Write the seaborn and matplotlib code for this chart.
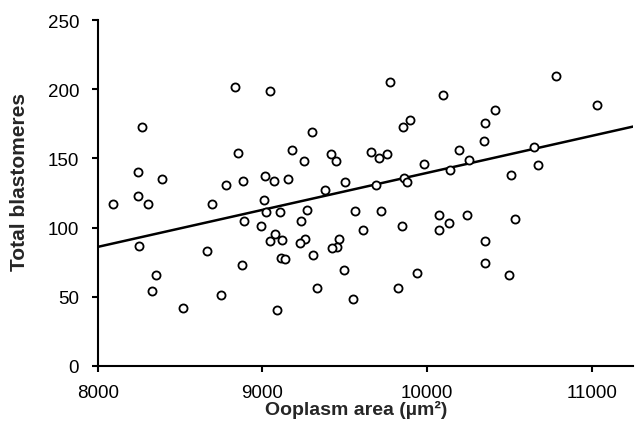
import matplotlib
matplotlib.use("Agg")
import matplotlib.pyplot as plt
import seaborn as sns
import pandas as pd

ooplasm_area = [
    8833, 9046, 8267, 8853, 8246, 8388, 8779, 8884, 9015, 8243,
    8307, 8091, 8695, 9012, 9774, 10093, 9299, 9854, 9897, 9181,
    9254, 9416, 9446, 9658, 9707, 9754, 9980, 9070, 9157, 9379,
    9501, 9687, 9859, 9879, 10138, 10781, 11028, 10409, 10350, 10344,
    10194, 10251, 10647, 10670, 10506, 9024, 8888, 8989, 9044, 8251,
    8661, 8874, 8352, 8328, 8746, 8519, 9106, 9076, 9117, 9268,
    9234, 9258, 9228, 9561, 9719, 9608, 9845, 10073, 10130, 10073,
    9466, 9450, 9420, 9305, 9110, 9137, 9496, 9936, 9333, 9824,
    9547, 9090, 10239, 10534, 10350, 10350, 10498,
]
total_blastomeres = [
    202, 199, 173, 154, 140, 135, 131, 134, 137, 123,
    117, 117, 117, 120, 205, 196, 169, 173, 178, 156,
    148, 153, 148, 155, 150, 153, 146, 134, 135, 127,
    133, 131, 136, 133, 142, 210, 189, 185, 176, 163,
    156, 149, 158, 145, 138, 111, 105, 101, 90, 87,
    83, 73, 66, 54, 51, 42, 111, 95, 91, 113,
    105, 92, 89, 112, 112, 98, 101, 109, 103, 98,
    92, 86, 85, 80, 78, 77, 69, 67, 56, 56,
    48, 40, 109, 106, 90, 74, 66,
]
# trend line as drawn in the figure (value at 8000 µm² and slope)
trend_at_8000 = 86.0
trend_slope = 0.0268

x_ticks = [8000, 9000, 10000, 11000]
y_ticks = [0, 50, 100, 150, 200, 250]
x_limits = [8000, 11250]
y_limits = [0, 250]

df = pd.DataFrame({"area": ooplasm_area, "blast": total_blastomeres})
trend = pd.DataFrame({"area": x_limits})
trend["blast"] = trend_at_8000 + trend_slope * (trend["area"] - 8000)

sns.set_style("ticks")
plt.rcParams["font.family"] = ["Liberation Sans", "DejaVu Sans"]

fig = plt.figure(figsize=(6.35, 4.35), dpi=100)
ax = fig.add_axes([0.154, 0.157, 0.843, 0.794])

sns.lineplot(data=trend, x="area", y="blast", ax=ax, color="black",
             linewidth=1.8, zorder=2)
sns.scatterplot(data=df, x="area", y="blast", ax=ax, s=34,
                facecolor="white", edgecolor="black", linewidth=1.3,
                zorder=3)

ax.set_xlim(*x_limits)
ax.set_ylim(*y_limits)
ax.set_xticks(x_ticks)
ax.set_yticks(y_ticks)
for s in ["top", "right"]:
    ax.spines[s].set_visible(False)
for s in ["left", "bottom"]:
    ax.spines[s].set_linewidth(1.5)
    ax.spines[s].set_color("black")
ax.tick_params(axis="both", direction="out", length=4.5, width=1.5,
               colors="black", labelsize=13.5)
ax.tick_params(axis="y", pad=9)
ax.tick_params(axis="x", pad=9)

ax.set_xlabel("Ooplasm area (µm²)", fontsize=14, fontweight="bold")
ax.set_ylabel("Total blastomeres", fontsize=15, fontweight="bold")
ax.xaxis.set_label_coords(0.482, -0.10)
ax.yaxis.set_label_coords(-0.128, 0.535)

fig.savefig("out.png", dpi=100)
